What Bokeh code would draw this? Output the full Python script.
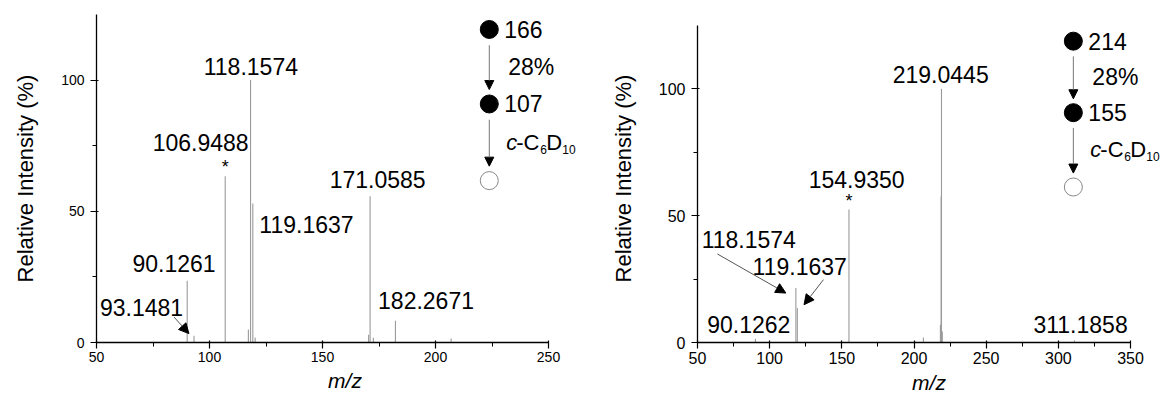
from bokeh.plotting import figure
from bokeh.models import (Arrow, NormalHead, Label, FixedTicker, Range1d,
                          ColumnDataSource)
from bokeh.layouts import row
from bokeh.core.properties import value
from bokeh.embed import file_html
from bokeh.resources import INLINE

# ---------------- data ----------------
# left spectrum (precursor 166)
left_mz = [90.13, 93.15, 106.95, 117.2, 118.16, 119.16, 120.2, 170.4, 171.06, 172.5, 182.27, 206.9]
left_int = [23.5, 2.6, 63.4, 5.0, 100.0, 53.0, 1.9, 3.0, 55.7, 1.8, 8.3, 1.5]

left_labels = ["118.1574", "106.9488", "119.1637", "171.0585", "182.2671", "90.1261", "93.1481"]
left_star = [106.95]

# right spectrum (precursor 214)
right_mz = [90.13, 118.16, 119.16, 154.94, 206.5, 218.3, 218.8, 219.04, 219.6, 311.19]
right_int = [1.5, 21.5, 13.6, 52.4, 2.0, 7.0, 57.6, 100.0, 4.3, 0.8]

right_labels = ["219.0445", "154.9350", "118.1574", "119.1637", "90.1262", "311.1858"]
right_star = [154.94]

left_scheme = ["166", "28%", "107"]
right_scheme = ["214", "28%", "155"]

FONT = value("Liberation Sans")
GRAY = "#9a9a9a"
FRAME_TOP = 14
FRAME_H = 330
FIG_H = 396


def make_panel(mz, inten, xmax, axis_px, axis_py, xticks, xminor, width,
               b_left, frame_w, tick_font, label_layout,
               labels, star, star_y, arrows, scheme, scheme_x, scheme_y):
    # frame is larger than the drawn axes so that the scheme text is not clipped
    x_end = 50 + frame_w * (xmax - 50) / axis_px
    y_end = 125 * FRAME_H / axis_py
    p = figure(output_backend="svg", toolbar_location=None,
               x_range=Range1d(50, x_end), y_range=Range1d(0, y_end),
               width=width, height=FIG_H,
               min_border_left=b_left, min_border_top=FRAME_TOP,
               min_border_right=0,
               min_border_bottom=FIG_H - FRAME_TOP - FRAME_H,
               background_fill_color="white", border_fill_color="white")
    p.outline_line_color = None
    p.grid.visible = False

    src = ColumnDataSource(dict(x=mz, y=inten, y0=[0] * len(mz)))
    p.segment(x0="x", y0="y0", x1="x", y1="y", source=src,
              line_color=GRAY, line_width=1.1)

    # axes
    p.xaxis.ticker = FixedTicker(ticks=xticks, minor_ticks=xminor)
    p.xaxis.bounds = (50, xmax)
    p.yaxis.ticker = FixedTicker(ticks=[0, 50, 100], minor_ticks=[25, 75])
    p.yaxis.bounds = (0, 125)
    for ax in (p.xaxis[0], p.yaxis[0]):
        ax.axis_line_color = "black"
        ax.axis_line_width = 1.3
        ax.major_tick_line_color = "black"
        ax.minor_tick_line_color = "black"
        ax.major_tick_line_width = 1.2
        ax.minor_tick_line_width = 1.0
        ax.major_tick_in = 2
        ax.major_tick_out = 6
        ax.minor_tick_in = 0
        ax.minor_tick_out = 4
        ax.major_label_text_font = "Liberation Sans"
        ax.major_label_text_font_size = tick_font
        ax.major_label_text_color = "black"
        ax.axis_label_text_font = "Liberation Sans"
        ax.axis_label_text_color = "black"
    p.xaxis.axis_label = "m/z"
    p.xaxis.axis_label_text_font_size = "21px"
    p.xaxis.axis_label_text_font_style = "italic"
    p.xaxis.major_label_standoff = 3
    p.xaxis.axis_label_standoff = 4
    p.yaxis.axis_label = "Relative Intensity (%)"
    p.yaxis.axis_label_text_font_size = "22px"
    p.yaxis.axis_label_text_font_style = "normal"
    p.yaxis.major_label_standoff = 6
    p.yaxis.axis_label_standoff = 20

    # peak labels
    lx, ly = label_layout
    lsrc = ColumnDataSource(dict(x=lx, y=ly, t=labels))
    p.text(x="x", y="y", text="t", source=lsrc, text_font=FONT,
           text_font_size="23px", text_align="center",
           text_baseline="middle", text_color="black")
    ssrc = ColumnDataSource(dict(x=star, y=[star_y] * len(star), t=["*"] * len(star)))
    p.text(x="x", y="y", text="t", source=ssrc, text_font=FONT,
           text_font_size="18px", text_align="center",
           text_baseline="middle", text_color="black")

    for (x0, y0, x1, y1) in arrows:
        p.add_layout(Arrow(x_start=x0, y_start=y0, x_end=x1, y_end=y1,
                           line_color="#555555", line_width=1,
                           end=NormalHead(size=10, fill_color="black",
                                          line_color="black")))

    # fragmentation scheme
    y1, yt, y2, y3 = scheme_y
    p.scatter(x=[scheme_x, scheme_x], y=[y1, y2], size=18, marker="circle",
              fill_color="black", line_color="black")
    p.scatter(x=[scheme_x], y=[y3], size=18, marker="circle",
              fill_color="white", line_color="#888888", line_width=1)
    gap = 6.0
    for ya, yb in ((y1, y2), (y2, y3)):
        p.add_layout(Arrow(x_start=scheme_x, y_start=ya - gap, x_end=scheme_x,
                           y_end=yb + gap - 0.5, line_color="#777777", line_width=1,
                           end=NormalHead(size=9, fill_color="black",
                                          line_color="black")))
    for txt, yy, off in ((scheme[0], y1, 15), (scheme[1], yt, 19), (scheme[2], y2, 15)):
        p.add_layout(Label(x=scheme_x, y=yy, x_offset=off, text=txt,
                           text_font="Liberation Sans", text_font_size="23px",
                           text_baseline="middle", text_align="left",
                           text_color="black"))
    ymid = (y2 + y3) / 2
    parts = [("c", 17, 0, "22px", "italic"), ("-C", 27, 0, "22px", "normal"),
             ("6", 51, -7, "12px", "normal"), ("D", 57, 0, "22px", "normal"),
             ("10", 73, -7, "12px", "normal")]
    for txt, xo, yo, fs, st in parts:
        p.add_layout(Label(x=scheme_x, y=ymid, x_offset=xo, y_offset=yo, text=txt,
                           text_font="Liberation Sans", text_font_size=fs,
                           text_font_style=st, text_baseline="middle",
                           text_align="left", text_color="black"))
    return p


left = make_panel(
    left_mz, left_int, 250, 452, 330, [50, 100, 150, 200, 250], [75, 125, 175, 225],
    593, 96, 497, "14px",
    ([118.3, 96.1, 142.9, 174.4, 195.8, 84.3, 69.9],
     [105.3, 76.1, 45.1, 62.1, 15.9, 30.2, 13.5]),
    left_labels, left_star, 66.7,
    [(84.3, 9.7, 90.9, 3.4)],
    left_scheme, 223.8, (119.3, 104.9, 90.9, 61.7))

right = make_panel(
    right_mz, right_int, 350, 433, 319, [50, 100, 150, 200, 250, 300, 350],
    [75, 125, 175, 225, 275, 325],
    567, 104, 463, "16px",
    ([218.5, 160.3, 85.5, 120.8, 85.5, 315.4],
     [105.7, 64.2, 40.5, 30.0, 7.0, 7.0]),
    right_labels, right_star, 55.7,
    [(63.8, 34.9, 111.2, 19.5), (137.3, 24.8, 123.8, 14.9)],
    right_scheme, 310.4, (118.8, 104.5, 90.6, 61.3))

layout = row(left, right)
open("out.html", "w").write(file_html(layout, INLINE))
